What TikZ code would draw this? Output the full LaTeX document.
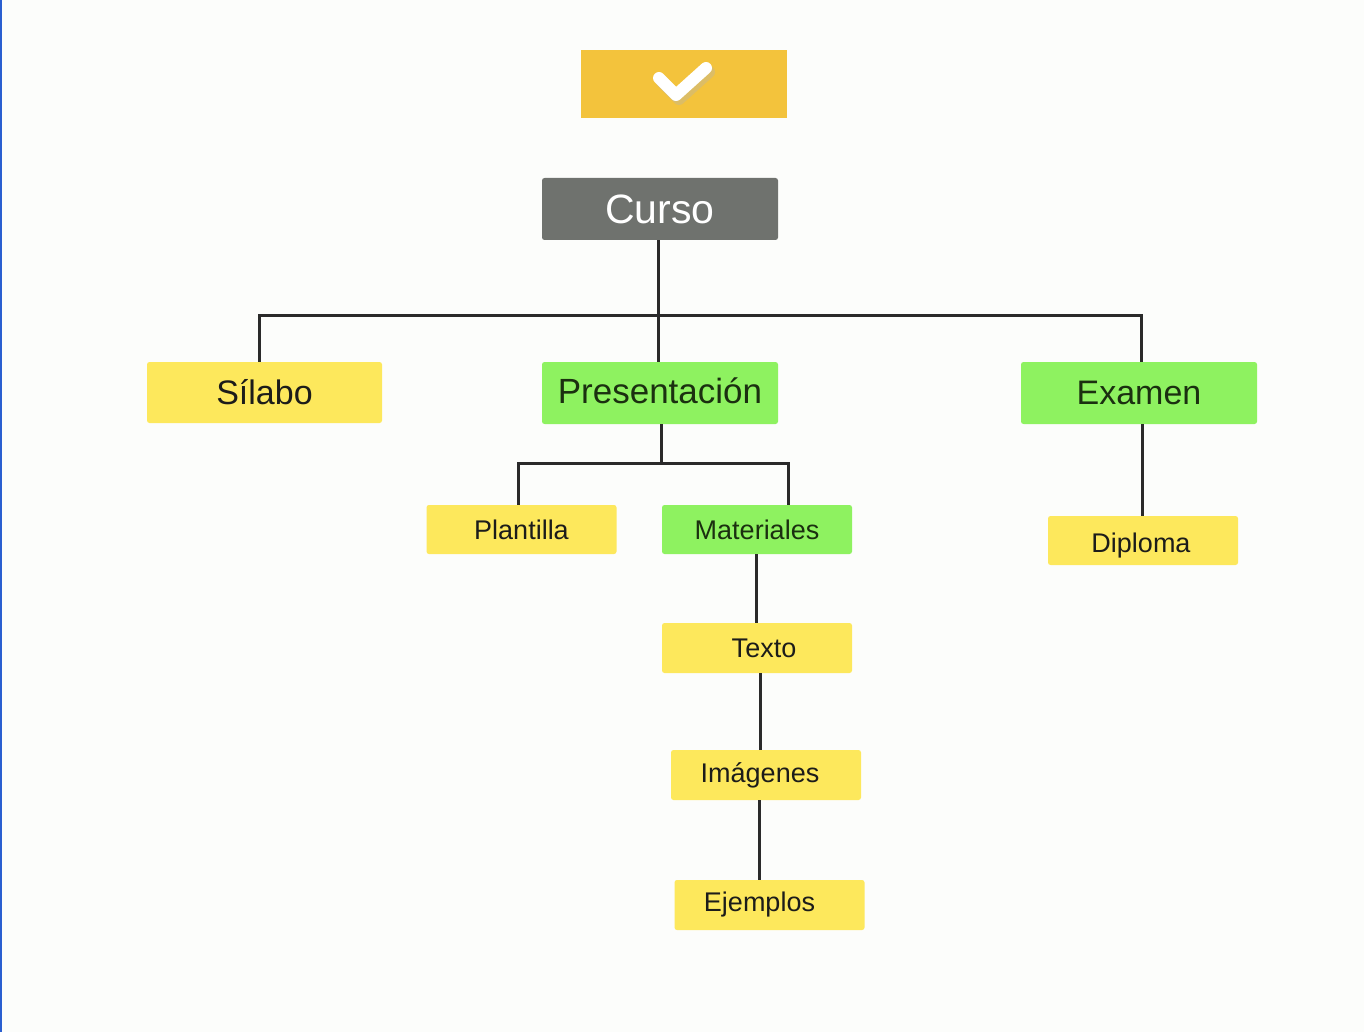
\documentclass[tikz,border=0pt]{standalone}
\usepackage{fontspec}
\setmainfont{Liberation Sans}
\definecolor{bg}{HTML}{FCFDFB}
\definecolor{gold}{HTML}{F3C33C}
\definecolor{cgray}{HTML}{6F726E}
\definecolor{yel}{HTML}{FDE85C}
\definecolor{grn}{HTML}{8EF260}
\definecolor{ink}{HTML}{1C1C1A}
\definecolor{ginkc}{HTML}{1B3010}
\definecolor{wire}{HTML}{2A2A2A}
\definecolor{edgeblue}{HTML}{2A5FD0}
\newcommand{\shiftx}[2]{\kern#1pt #2\kern-#1pt}
\tikzset{
  box/.style={inner sep=0pt, rounded corners=2.5pt, text=ink, anchor=center},
  bigbox/.style={box, minimum width=236pt, minimum height=62pt, font=\fontsize{34}{40}\selectfont},
  smallbox/.style={box, minimum width=190pt, minimum height=50pt, font=\fontsize{27}{32}\selectfont},
  ybox/.style={fill=yel},
  gbox/.style={fill=grn, text=ginkc},
  wireline/.style={draw=wire, line width=3pt},
}
\begin{document}
\begin{tikzpicture}[x=1pt,y=-1pt]
\useasboundingbox[fill=bg] (0,0) rectangle (1364,1032);
\fill[edgeblue] (0,0) rectangle (2,1032);
% check box
\node[box, fill=gold, rounded corners=0pt, minimum width=206pt, minimum height=68pt] (check) at (684,84) {};
\draw[line width=12pt, line cap=round, line join=round, draw=black!30, opacity=0.35] (662,82) -- (679,99) -- (709,72);
\draw[line width=12pt, white, line cap=round, line join=round] (659,78) -- (676,95) -- (706,68);
% nodes
\node[bigbox, fill=cgray, text=white, font=\fontsize{41}{48}\selectfont] (curso) at (660,209) {Curso};
\node[bigbox, ybox, minimum width=235pt, minimum height=61pt] (silabo) at (264.5,392.5) {Sílabo};
\node[bigbox, gbox, font=\fontsize{35}{40}\selectfont] (pres) at (660,393) {\raisebox{2pt}[\height][\depth]{Presentación}};
\node[bigbox, gbox] (examen) at (1139,393) {Examen};
\node[smallbox, ybox, minimum height=49pt] (plantilla) at (521.5,529.5) {Plantilla};
\node[smallbox, gbox, minimum height=49pt] (mater) at (757,529.5) {Materiales};
\node[smallbox, ybox, minimum height=49pt] (diploma) at (1143,540.5) {\raisebox{-5pt}[\height][\depth]{\shiftx{-2}{Diploma}}};
\node[smallbox, ybox] (texto) at (757,648) {\shiftx{7}{Texto}};
\node[smallbox, ybox] (imag) at (766,775) {\shiftx{-6}{Imágenes}};
\node[smallbox, ybox] (ejem) at (769.5,905) {\shiftx{-10}{Ejemplos}};
% bar joints
\coordinate (bar1) at (658,315);
\coordinate (bar2) at (661,463);
% connectors
\draw[wireline] ([xshift=-2pt]curso.south) -- ([xshift=-2pt]curso.south |- pres.north);
\draw[wireline, line join=miter] ([xshift=-5.5pt]silabo.north) |- (bar1) -| ([xshift=2pt]examen.north);
\draw[wireline] ([xshift=1pt]pres.south) -- (bar2);
\draw[wireline, line join=miter] ([xshift=-3.5pt]plantilla.north) |- (bar2) -| ([xshift=31pt]mater.north);
\draw[wireline] ([xshift=-1pt]mater.south) -- ([xshift=-1pt]mater.south |- texto.north);
\draw[wireline] ([xshift=3pt]texto.south) -- ([xshift=3pt]texto.south |- imag.north);
\draw[wireline] ([xshift=-7pt]imag.south) -- ([xshift=-7pt]imag.south |- ejem.north);
\draw[wireline] ([xshift=3pt]examen.south) -- ([xshift=3pt]examen.south |- diploma.north);
\end{tikzpicture}
\end{document}
